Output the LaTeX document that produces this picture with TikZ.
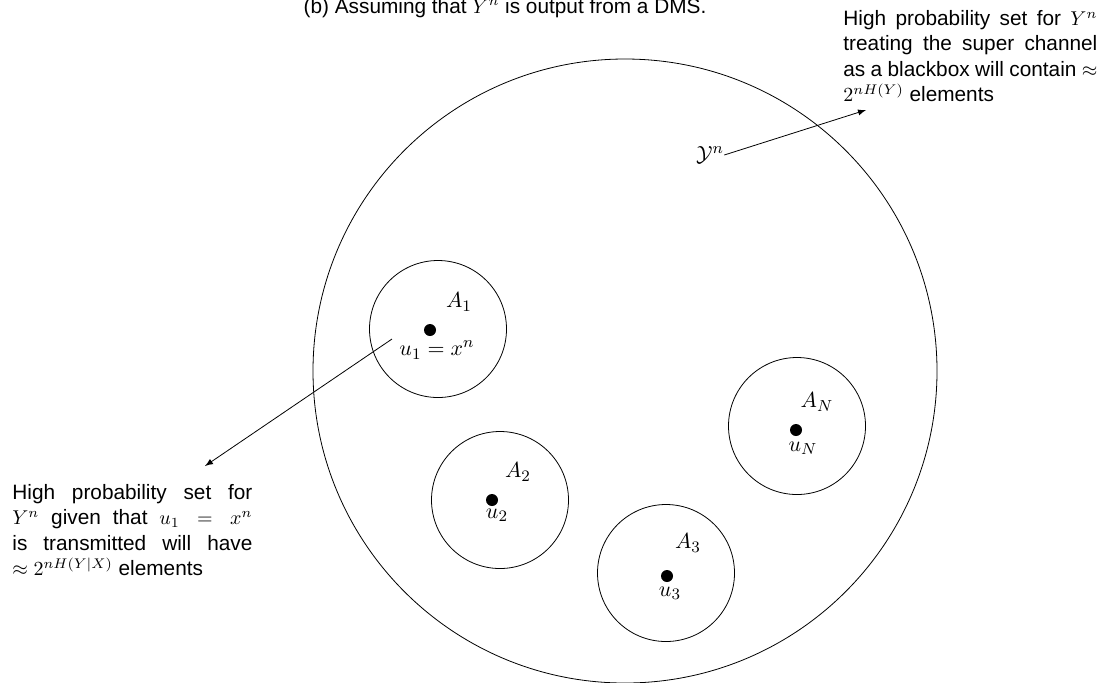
\documentclass[tikz,border=0pt]{standalone}
\usepackage{amsmath,amssymb}
\usepackage{fontspec}
\setmainfont{Liberation Sans}
\usetikzlibrary{arrows}
\newcommand{\txtsize}{\fontsize{10.4}{12.7}\selectfont}

\begin{document}
\begin{tikzpicture}[x=0.5pt,y=-0.5pt,
		settext/.style={font=\txtsize, align=justify, text width=#1, inner sep=0pt},
		subset/.style={circle, draw, minimum size=68.5pt, inner sep=0pt},
		word/.style={circle, fill, inner sep=0pt, minimum size=6pt},
		lbl/.style={font=\fontsize{10.8}{12}\selectfont, inner sep=0pt}]
	\useasboundingbox (0,0) rectangle (1118,682);
	\node[font=\txtsize, anchor=base] (title) at (505,13) {(b) Assuming that $Y^n$ is output from a DMS.};
	% the whole output space
	\node[circle, draw, minimum size=312pt, inner sep=0pt] (Yspace) at (625,371) {};
	\node[font=\fontsize{11}{13}\selectfont, inner sep=0pt] (Yn) at (710,155) {$\mathcal{Y}^n$};
	% decoding sets
	\node[subset] (A1) at (438,329) {};
	\node[subset] (A2) at (500,500) {};
	\node[subset] (A3) at (666,573) {};
	\node[subset] (AN) at (797,426) {};
	\node[word] (u1) at (430,330) {};
	\node[word] (u2) at (492,500) {};
	\node[word] (u3) at (667,576) {};
	\node[word] (uN) at (796,430) {};
	\node[lbl] (A1lbl) at (459,302) {$A_1$};
	\node[lbl] (A2lbl) at (518,472) {$A_2$};
	\node[lbl] (A3lbl) at (688,543) {$A_3$};
	\node[lbl] (ANlbl) at (817,402) {$A_N$};
	\node[lbl] (u1lbl) at (437,350) {$u_1 = x^n$};
	\node[lbl] (u2lbl) at (497,515) {$u_2$};
	\node[lbl] (u3lbl) at (670,593) {$u_3$};
	\node[lbl] (uNlbl) at (803,448) {$u_N$};
	% the two notes
	\node[settext=127pt, anchor=north west] (notebox) at (843,10)
		{High probability set for $Y^n$\linebreak treating the super channel\linebreak as a blackbox will contain $\approx$\linebreak $2^{nH(Y)}$ elements};
	\node[settext=120pt, anchor=north west] (notecond) at (12,484)
		{High probability set for\linebreak $Y^n$ given that $u_1 = x^n$\linebreak is transmitted will have\linebreak $\approx 2^{nH(Y|X)}$ elements};
	\coordinate (boxtip) at (866,110);
	\coordinate (condtail) at (392,339);
	\coordinate (condtip) at (205,466);
	\path[-latex]
	(Yn.east) edge (boxtip)
	(condtail) edge (condtip);
\end{tikzpicture}
\end{document}
